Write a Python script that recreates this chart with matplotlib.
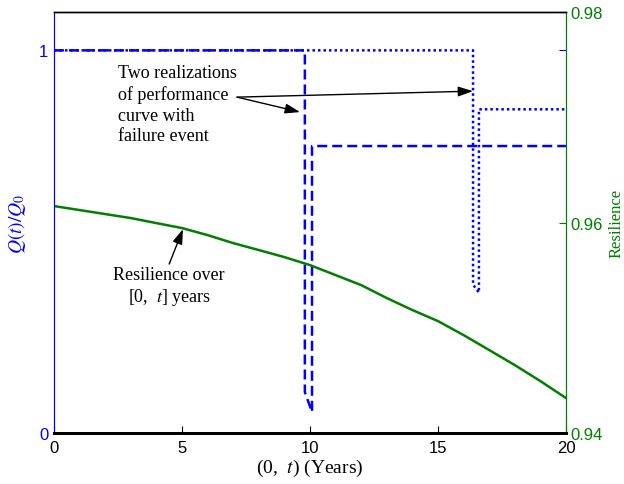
import numpy as np
import matplotlib
matplotlib.use("Agg")
import matplotlib.pyplot as plt

plt.rcParams['mathtext.fontset'] = 'stix'
plt.rcParams['font.family'] = ['Liberation Sans', 'DejaVu Sans']

BLUE = '#0000ff'
GREEN = '#007f00'
SERIF = 'Liberation Serif'

# performance curve, realization 1 (dashed)
t_dash = [0, 9.8, 9.8, 10.08, 10.08, 20]
q_dash = [1, 1, 0.107, 0.055, 0.75, 0.75]

# performance curve, realization 2 (dotted)
t_dot = [0, 16.37, 16.37, 16.6, 16.6, 20]
q_dot = [1, 1, 0.388, 0.367, 0.846, 0.846]

# resilience over [0, t]
t_res = list(range(0, 21))
res = [0.96157, 0.96119, 0.96081, 0.96043, 0.95995, 0.95948, 0.95881,
       0.95805, 0.95739, 0.95672, 0.95596, 0.95501, 0.95406, 0.95283,
       0.95169, 0.95064, 0.94931, 0.94789, 0.94646, 0.94494, 0.94333]

xticks = [0, 5, 10, 15, 20]
qticks = [0, 1]
rticks = [0.94, 0.96, 0.98]

fig = plt.figure(figsize=(6.24, 4.85), dpi=100)
ax1 = fig.add_axes([0.0865, 0.105, 0.8205, 0.868])
ax2 = ax1.twinx()

ax1.plot(t_dash, q_dash, color=BLUE, lw=1.8, ls=(0, (4, 2)))
ax1.plot(t_dot, q_dot, color=BLUE, lw=1.8, ls=(0, (1, 1.2)))
ax2.plot(t_res, res, color=GREEN, lw=1.8)

ax1.set_xlim(0, 20)
ax1.set_ylim(0, 1.1)
ax2.set_ylim(0.94, 0.98)
ax1.set_xticks(xticks)
ax1.set_yticks(qticks)
ax1.set_yticklabels(['0', '1'])
ax2.set_yticks(rticks)
ax2.set_yticklabels(['0.94', '0.96', '0.98'])

ax1.tick_params(axis='x', direction='in', length=5, labelsize=12, colors='k',
                pad=5)
ax1.tick_params(axis='y', direction='in', length=5, labelsize=12, colors=BLUE,
                right=True, pad=4)
ax2.tick_params(axis='y', direction='in', length=5, labelsize=12, colors=GREEN,
                pad=3)

for a in (ax1, ax2):
    a.spines['top'].set_color('k')
    a.spines['top'].set_linewidth(1.0)
    a.spines['bottom'].set_color('k')
    a.spines['bottom'].set_linewidth(2.0)
    a.spines['left'].set_color(BLUE)
    a.spines['right'].set_color(GREEN)

ax1.set_xlabel(r'(0,  $t$) (Years)', family=SERIF, fontsize=14, labelpad=1)
ax1.set_ylabel(r'$Q(t)/Q_0$', color=BLUE, fontsize=14, labelpad=8)
ax2.set_ylabel('Resilience', color=GREEN, family=SERIF, fontsize=12,
               labelpad=4)

arrow = dict(arrowstyle='-|>,head_length=0.9,head_width=0.3', color='k',
             lw=1.0, shrinkA=0, shrinkB=0)
ax2.text(2.5, 0.97126, 'Two realizations\nof performance\ncurve with\nfailure event',
         family=SERIF, fontsize=13, linespacing=1.3, va='center', ha='left')
ax2.annotate('', xy=(9.61, 0.9705), xytext=(7.15, 0.97192), arrowprops=arrow)
ax2.annotate('', xy=(16.37, 0.97249), xytext=(7.15, 0.97192), arrowprops=arrow)

ax2.text(4.5, 0.95397, 'Resilience over\n[0,  $t$] years', family=SERIF,
         fontsize=13, linespacing=1.2, va='center', ha='center')
ax2.annotate('', xy=(5.04, 0.95938), xytext=(4.5, 0.95606), arrowprops=arrow)

fig.savefig('out.png', dpi=100)
